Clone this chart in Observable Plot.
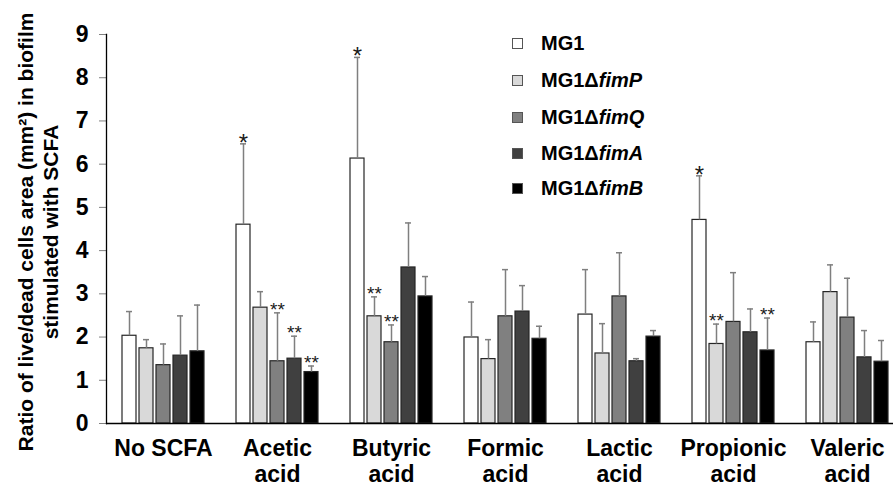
<!DOCTYPE html>
<html><head><meta charset="utf-8">
<script src="https://cdn.jsdelivr.net/npm/d3@7"></script>
<script src="https://cdn.jsdelivr.net/npm/@observablehq/plot@0.6"></script>
<style>
body{margin:0;background:#fff;overflow:hidden}
#wrap{position:relative;width:893px;height:488px;overflow:hidden;font-family:"Liberation Sans",Arial,sans-serif;color:#000}
#wrap svg{position:absolute;left:0;top:0}
.lg{position:absolute;left:512px;height:24px;display:flex;align-items:center;font-weight:bold;font-size:20px;white-space:nowrap}
.sw{width:11px;height:11px;border:1px solid #555;box-sizing:border-box;margin-right:18px}
</style></head>
<body><div id="wrap"></div>
<script>
// Categories and series
const groups = ["No SCFA", "Acetic\nacid", "Butyric\nacid", "Formic\nacid", "Lactic\nacid", "Propionic\nacid", "Valeric\nacid"];
const strains = ["MG1", "MG1ΔfimP", "MG1ΔfimQ", "MG1ΔfimA", "MG1ΔfimB"];
const yTicks = [0, 1, 2, 3, 4, 5, 6, 7, 8, 9];
const yTitle = "Ratio of live/dead cells area (mm²) in biofilm\nstimulated with SCFA";

const meanMG1  = [2.03, 4.60, 6.13, 1.99, 2.52, 4.71, 1.88];
const meanFimP = [1.74, 2.68, 2.48, 1.49, 1.62, 1.84, 3.04];
const meanFimQ = [1.35, 1.44, 1.88, 2.48, 2.94, 2.35, 2.45];
const meanFimA = [1.57, 1.50, 3.61, 2.59, 1.44, 2.11, 1.53];
const meanFimB = [1.67, 1.19, 2.94, 1.96, 2.01, 1.69, 1.43];

const sdMG1  = [0.56, 1.87, 2.34, 0.82, 1.04, 1.02, 0.47];
const sdFimP = [0.20, 0.37, 0.45, 0.45, 0.69, 0.46, 0.63];
const sdFimQ = [0.49, 1.12, 0.40, 1.08, 1.01, 1.14, 0.91];
const sdFimA = [0.92, 0.52, 1.03, 0.60, 0.06, 0.54, 0.62];
const sdFimB = [1.07, 0.14, 0.46, 0.29, 0.14, 0.75, 0.49];

const sigMG1  = ["", "*", "*", "", "", "*", ""];
const sigFimP = ["", "", "**", "", "", "**", ""];
const sigFimQ = ["", "**", "**", "", "", "", ""];
const sigFimA = ["", "**", "", "", "", "", ""];
const sigFimB = ["", "**", "", "", "", "**", ""];

const colors = ["#ffffff", "#d9d9d9", "#808080", "#404040", "#000000"];

const means = [meanMG1, meanFimP, meanFimQ, meanFimA, meanFimB];
const sds = [sdMG1, sdFimP, sdFimQ, sdFimA, sdFimB];
const sigs = [sigMG1, sigFimP, sigFimQ, sigFimA, sigFimB];
const rows = [];
strains.forEach((s, i) => groups.forEach((g, j) => rows.push({
  group: g, strain: s, mean: means[i][j], sd: sds[i][j], sig: sigs[i][j]
})));
const errTop = d => d.mean + d.sd;

const chart = Plot.plot({
  width: 893, height: 488,
  marginLeft: 105, marginRight: -12, marginTop: 34, marginBottom: 65,
  style: {fontFamily: "'Liberation Sans',Arial,sans-serif", background: "transparent", color: "black"},
  fx: {domain: groups, padding: 0, label: null},
  x: {domain: strains, paddingInner: 0.2, paddingOuter: 0.83, axis: null},
  y: {domain: [0, 9], axis: null},
  color: {domain: strains, range: colors},
  marks: [
    Plot.barY(rows, {fx: "group", x: "strain", y: "mean", fill: "strain", stroke: "#262626", strokeWidth: 1.2}),
    Plot.ruleX(rows, {fx: "group", x: "strain", y1: "mean", y2: errTop, stroke: "#7f7f7f", strokeWidth: 1.5}),
    Plot.tickY(rows, {fx: "group", x: "strain", y: errTop, stroke: "#7f7f7f", strokeWidth: 1.5, insetLeft: 4, insetRight: 4}),
    Plot.text(rows.filter(d => d.sig === "*"), {fx: "group", x: "strain", y: errTop, text: "sig", lineAnchor: "bottom", dy: 7, fontSize: 24, fill: "#1a1a1a"}),
    Plot.text(rows.filter(d => d.sig === "**"), {fx: "group", x: "strain", y: errTop, text: "sig", lineAnchor: "bottom", dy: 3, fontSize: 19, fill: "#1a1a1a"}),
    Plot.axisY({ticks: yTicks, tickSize: 7, tickPadding: 11, fontSize: 23, fontWeight: "bold", stroke: "#808080", fill: "black", label: null}),
    Plot.axisFx({anchor: "bottom", tickSize: 0, tickPadding: 14, fontSize: 23, fontWeight: "bold", lineHeight: 1.12, label: null}),
    Plot.ruleY([0], {stroke: "black", strokeWidth: 1.5}),
    Plot.frame({anchor: "left", facet: "super", stroke: "black", strokeWidth: 1.3}),
    Plot.text([yTitle], {facet: "super", frameAnchor: "left", rotate: -90, textAnchor: "middle", lineAnchor: "middle",
      dx: -69, dy: 3, fontSize: 21, fontWeight: "bold", lineHeight: 1.2, fill: "black"})
  ]
});
const wrap = document.getElementById("wrap");
wrap.appendChild(chart);

// legend
const legendRows = [
  ["MG1", ""], ["MG1Δ", "fimP"], ["MG1Δ", "fimQ"], ["MG1Δ", "fimA"], ["MG1Δ", "fimB"]
];
const legendTops = [31, 68, 105, 141, 176];
legendRows.forEach((r, i) => {
  const el = document.createElement("div");
  el.className = "lg";
  el.style.top = legendTops[i] + "px";
  el.innerHTML = `<span class="sw" style="background:${colors[i]}"></span><span>${r[0]}<i>${r[1]}</i></span>`;
  wrap.appendChild(el);
});
</script></body></html>
